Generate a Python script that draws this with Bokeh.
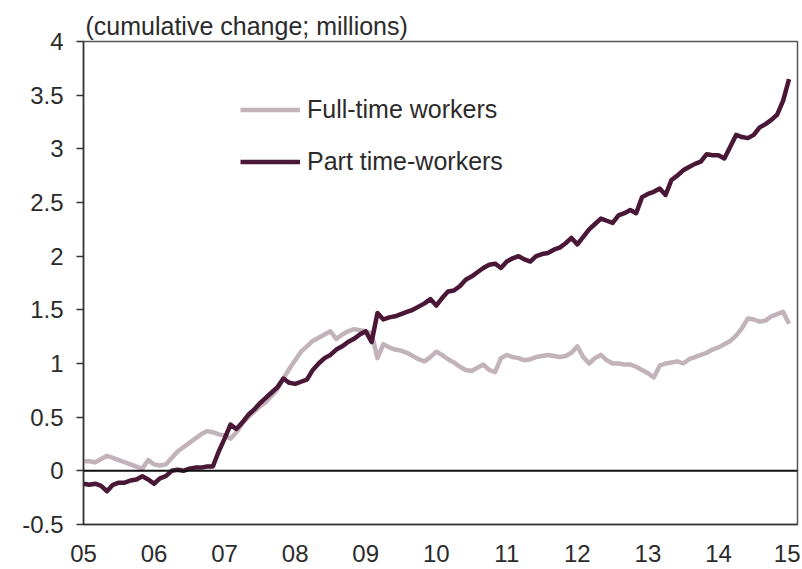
from bokeh.plotting import figure
from bokeh.models import FixedTicker, Span, Legend, LegendItem
from bokeh.embed import file_html
from bokeh.resources import INLINE

# Monthly cumulative change (millions), Jan 2005 onward
full_time = [
    0.09, 0.09, 0.08, 0.11, 0.14, 0.12, 0.10, 0.08, 0.06, 0.04, 0.02, 0.10,
    0.06, 0.05, 0.06, 0.12, 0.18, 0.22, 0.26, 0.30, 0.34, 0.37, 0.36, 0.34,
    0.33, 0.30, 0.36, 0.44, 0.50, 0.55, 0.60, 0.64, 0.70, 0.76, 0.86, 0.95,
    1.03, 1.11, 1.16, 1.21, 1.24, 1.27, 1.30, 1.23, 1.27, 1.30, 1.32, 1.31,
    1.30, 1.28, 1.05, 1.18, 1.15, 1.13, 1.12, 1.10, 1.07, 1.04, 1.02, 1.06,
    1.11, 1.08, 1.04, 1.01, 0.97, 0.94, 0.93, 0.96, 0.99, 0.94, 0.92, 1.05,
    1.08, 1.06, 1.05, 1.03, 1.04, 1.06, 1.07, 1.08, 1.07, 1.06, 1.07, 1.10,
    1.16, 1.06, 1.00, 1.05, 1.08, 1.03, 1.00, 1.00, 0.99, 0.99, 0.97, 0.94,
    0.91, 0.87, 0.98, 1.00, 1.01, 1.02, 1.00, 1.04, 1.06, 1.08, 1.10, 1.13,
    1.15, 1.18, 1.21, 1.26, 1.33, 1.42, 1.41, 1.39, 1.40, 1.44, 1.46, 1.48,
    1.37,
]
part_time = [
    -0.12, -0.13, -0.12, -0.14, -0.19, -0.13, -0.11, -0.11, -0.09, -0.08, -0.05, -0.08,
    -0.12, -0.07, -0.05, 0.00, 0.01, 0.00, 0.02, 0.03, 0.03, 0.04, 0.04, 0.18,
    0.30, 0.43, 0.39, 0.45, 0.52, 0.57, 0.63, 0.68, 0.73, 0.78, 0.86, 0.82,
    0.81, 0.83, 0.85, 0.94, 1.00, 1.05, 1.08, 1.13, 1.16, 1.20, 1.23, 1.27,
    1.30, 1.20, 1.47, 1.41, 1.43, 1.44, 1.46, 1.48, 1.50, 1.53, 1.56, 1.60,
    1.54, 1.61, 1.67, 1.68, 1.72, 1.78, 1.81, 1.85, 1.89, 1.92, 1.93, 1.89,
    1.95, 1.98, 2.00, 1.97, 1.95, 2.00, 2.02, 2.03, 2.06, 2.08, 2.12, 2.17,
    2.11, 2.18, 2.25, 2.30, 2.35, 2.33, 2.31, 2.38, 2.40, 2.43, 2.40, 2.55,
    2.58, 2.60, 2.63, 2.57, 2.71, 2.75, 2.80, 2.83, 2.86, 2.88, 2.95, 2.94,
    2.94, 2.91, 3.02, 3.13, 3.11, 3.10, 3.13, 3.20, 3.23, 3.27, 3.32, 3.45,
    3.65,
]
start_year = 2005
months = [start_year + i / 12 for i in range(len(part_time))]

x_ticks = [2005, 2006, 2007, 2008, 2009, 2010, 2011, 2012, 2013, 2014, 2015]
x_labels = ["05", "06", "07", "08", "09", "10", "11", "12", "13", "14", "15"]
y_ticks = [-0.5, 0.0, 0.5, 1.0, 1.5, 2.0, 2.5, 3.0, 3.5, 4.0]
y_labels = ["-0.5", "0", "0.5", "1", "1.5", "2", "2.5", "3", "3.5", "4"]

series_names = ["Full-time workers", "Part time-workers"]
title_text = "(cumulative change; millions)"

FONT = "Liberation Sans"
DARK = "#4a1737"
LIGHT = "#c2b2ba"
TEXT = "#2b2b2b"

p = figure(width=800, height=569, output_backend="svg", toolbar_location=None,
           x_range=(2005.0, 2015.12), y_range=(-0.5, 4.0),
           min_border_left=83, min_border_right=3, min_border_top=41,
           min_border_bottom=45, title=title_text)

p.title.text_font = FONT
p.title.text_font_size = "25px"
p.title.text_font_style = "normal"
p.title.text_color = TEXT
p.title.align = "left"
p.title.offset = 2
p.title.standoff = 3

p.grid.visible = False
p.background_fill_color = "white"
p.border_fill_color = "white"
p.outline_line_color = "#555555"
p.outline_line_width = 1.5

# axes
p.xaxis.ticker = FixedTicker(ticks=x_ticks)
p.xaxis.major_label_overrides = dict(zip(x_ticks, x_labels))
p.yaxis.ticker = FixedTicker(ticks=y_ticks)
p.yaxis.major_label_overrides = dict(zip(y_ticks, y_labels))
for ax in (p.xaxis[0], p.yaxis[0]):
    ax.axis_line_color = "#333333"
    ax.axis_line_width = 1.5
    ax.major_tick_line_color = "#333333"
    ax.major_tick_line_width = 1.5
    ax.minor_tick_line_color = None
    ax.major_label_text_font = FONT
    ax.major_label_text_font_size = "24px"
    ax.major_label_text_color = TEXT
p.xaxis.major_tick_out = 0
p.xaxis.major_tick_in = 0
p.xaxis.major_label_standoff = 20
p.yaxis.major_tick_out = 7
p.yaxis.major_tick_in = 0
p.yaxis.major_label_standoff = 13

p.add_layout(Span(location=0, dimension="width", line_color="#111111", line_width=2))

r_full = p.line(months, full_time, line_color=LIGHT, line_width=4.5, line_join="round")
r_part = p.line(months, part_time, line_color=DARK, line_width=4.5, line_join="round")

legend = Legend(items=[LegendItem(label=series_names[0], renderers=[r_full]),
                       LegendItem(label=series_names[1], renderers=[r_part])],
                location=(157, 348), glyph_width=60, glyph_height=29,
                label_height=29, label_standoff=7, spacing=23, padding=0, margin=0,
                border_line_alpha=0, background_fill_alpha=0,
                label_text_font=FONT, label_text_font_size="25px",
                label_text_color=TEXT)
p.add_layout(legend)

open("out.html", "w").write(file_html(p, INLINE))
